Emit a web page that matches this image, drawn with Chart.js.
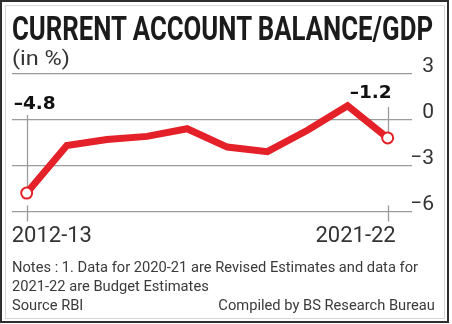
<!DOCTYPE html>
<html>
<head>
<meta charset="utf-8">
<script src="https://cdn.jsdelivr.net/npm/chart.js@4.4.1/dist/chart.umd.min.js"></script>
<style>
  html, body { margin: 0; padding: 0; background: #fff; }
  #wrap { position: relative; width: 452px; height: 324px; overflow: hidden; background: #fff; }
  #chart { position: absolute; left: 0; top: 0; }
  .frame-out { position: absolute; left: 0; top: 0; width: 449px; height: 323px; box-sizing: border-box; border: 2px solid #2e2e2e; }
  .frame-in { position: absolute; left: 5px; top: 5px; width: 440px; height: 314px; box-sizing: border-box; border: 1px solid #d6d6d6; }
  .txt { position: absolute; white-space: nowrap; line-height: 1; font-family: Roboto, "Noto Sans", sans-serif; transform-origin: left top; }
  #title { left: 12px; top: 10.5px; font-size: 34px; font-weight: bold; color: #1b1b1b; }
  #unit { left: 12px; top: 48px; font-size: 20px; color: #333; }
  .note { font-size: 14.5px; color: #3a3a3a; left: 12px; }
  #compiled { left: auto; right: 17px; transform-origin: right top; }
</style>
</head>
<body>
<div id="wrap">
  <canvas id="chart" width="452" height="324"></canvas>
  <div class="txt" id="title">CURRENT ACCOUNT BALANCE/GDP</div>
  <div class="txt" id="unit">(in %)</div>
  <div class="txt note" id="note1" style="top:261px">Notes : 1. Data for 2020-21 are Revised Estimates and data for</div>
  <div class="txt note" id="note2" style="top:280px">2021-22 are Budget Estimates</div>
  <div class="txt note" id="source" style="top:298.5px">Source RBI</div>
  <div class="txt note" id="compiled" style="top:298.5px">Compiled by BS Research Bureau</div>
  <div class="frame-out"></div>
  <div class="frame-in"></div>
</div>
<script>
// data
const years = ["2012-13", "2013-14", "2014-15", "2015-16", "2016-17",
               "2017-18", "2018-19", "2019-20", "2020-21", "2021-22"];
const cabGdp = [-4.8, -1.7, -1.3, -1.1, -0.6, -1.8, -2.1, -0.7, 0.9, -1.2];

// y axis ticks: -6, -3, 0, 3
const yMin = -6;
const yMax = 3;
const yStep = 3;

const RED = "#e42128";
const GRID = "#9c9c9c";

const fmt = (v) => (v < 0 ? "\u2013" + Math.abs(v) : String(v));
const fmt1 = (v) => (v < 0 ? "\u2013" + Math.abs(v).toFixed(1) : v.toFixed(1));

const last = cabGdp.length - 1;

// drop lines, end ticks, value labels and the two year labels
const marks = {
    id: "marks",
    beforeDatasetsDraw(chart) {
        const { ctx, scales: { x, y } } = chart;
        const zero = y.getPixelForValue(0);
        const bottom = y.getPixelForValue(yMin);
        const tops = [zero - 4.5, zero - 12.5];
        ctx.save();
        ctx.strokeStyle = GRID;
        ctx.lineWidth = 1.3;
        [0, last].forEach((i, k) => {
            const px = Math.round(x.getPixelForValue(i)) + 0.5;
            ctx.beginPath();
            ctx.moveTo(px, tops[k]);
            ctx.lineTo(px, y.getPixelForValue(cabGdp[i]));
            ctx.moveTo(px, bottom - 6);
            ctx.lineTo(px, bottom + 10);
            ctx.stroke();
        });
        ctx.restore();
    },
    afterDatasetsDraw(chart) {
        const { ctx, scales: { x, y } } = chart;
        const zero = y.getPixelForValue(0);
        const bottom = y.getPixelForValue(yMin);
        const p0 = x.getPixelForValue(0);
        const pN = x.getPixelForValue(last);
        ctx.save();
        ctx.textBaseline = "middle";
        ctx.fillStyle = "#111";
        ctx.font = "bold 18.5px 'DejaVu Sans'";
        ctx.textAlign = "left";
        ctx.fillText(fmt1(cabGdp[0]), p0 - 13, zero - 15.5);
        ctx.textAlign = "right";
        ctx.fillText(fmt1(cabGdp[last]), pN + 4, zero - 26.5);

        ctx.fillStyle = "#333";
        ctx.font = "22px Roboto";
        ctx.textAlign = "left";
        ctx.fillText(years[0], p0 - 15, bottom + 24.5);
        ctx.textAlign = "right";
        ctx.fillText(years[last], pN + 8, bottom + 24.5);
        ctx.restore();
    },
};

const chart = new Chart(document.getElementById("chart"), {
    type: "line",
    data: {
        datasets: [
            {
                data: cabGdp.map((v, i) => ({ x: i, y: v })),
                borderColor: RED,
                borderWidth: 7,
                borderJoinStyle: "miter",
                pointRadius: cabGdp.map((v, i) => (i === 0 || i === last ? 5.5 : 0)),
                pointBackgroundColor: "#fff",
                pointBorderColor: RED,
                pointBorderWidth: 2,
                tension: 0,
            },
        ],
    },
    options: {
        responsive: false,
        animation: false,
        devicePixelRatio: 1,
        layout: { padding: { left: 12, top: 73.5, right: 18, bottom: 112.5 } },
        plugins: {
            legend: { display: false },
            tooltip: { enabled: false },
        },
        scales: {
            x: {
                type: "linear",
                display: false,
                min: -0.366,
                max: 9.606,
            },
            y: {
                position: "right",
                min: yMin,
                max: yMax,
                afterFit: (s) => { s.width = 22; },
                grid: { color: GRID, lineWidth: 1.3, drawTicks: false },
                border: { display: false },
                ticks: {
                    stepSize: yStep,
                    padding: 0,
                    crossAlign: "far",
                    labelOffset: -7,
                    color: "#333",
                    font: { family: "Roboto", size: 21 },
                    callback: (v) => fmt(v),
                },
            },
        },
    },
    plugins: [marks],
});

// squeeze text to the condensed widths of the original
function fit(el, target) {
    const w = el.getBoundingClientRect().width;
    el.style.transform = "scaleX(" + (target / w) + ")";
}
fit(document.getElementById("title"), 421);
fit(document.getElementById("unit"), 58);
const n1 = document.getElementById("note1");
const noteScale = 406 / n1.getBoundingClientRect().width;
["note1", "note2", "source", "compiled"].forEach((id) => {
    document.getElementById(id).style.transform = "scaleX(" + noteScale + ")";
});
</script>
</body>
</html>
